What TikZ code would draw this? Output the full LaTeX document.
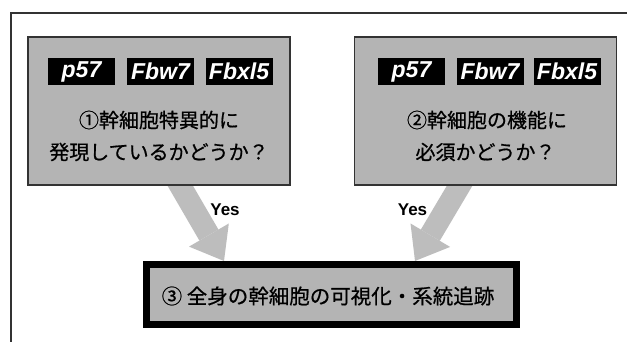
\documentclass[tikz,border=0pt]{standalone}
\usepackage{fontspec}
\newfontfamily\jp[FakeBold=0.7]{Noto Sans CJK JP}
\newfontfamily\lsans{Liberation Sans}
\usetikzlibrary{arrows.meta}
\definecolor{boxgray}{HTML}{B4B4B4}
\definecolor{arrowgray}{HTML}{BDBDBD}
\definecolor{edgegray}{HTML}{333333}
\tikzset{
  qbox/.style={draw=edgegray, line width=1.2pt, fill=boxgray, inner sep=0pt, minimum width=262pt, minimum height=148pt},
  tag/.style={fill=black, text=white, inner sep=0pt, minimum width=67pt, minimum height=27pt, font=\lsans\bfseries\itshape\fontsize{23}{23}\selectfont},
  jtext/.style={inner sep=0pt, font=\jp\fontsize{20}{20}\selectfont},
  yes/.style={inner sep=0pt, font=\lsans\bfseries\fontsize{17}{17}\selectfont},
  bigarrow/.style={draw=arrowgray, line width=22pt, -{Triangle[length=30pt, width=46pt, line width=0pt]}},
  resultbox/.style={draw=black, line width=7pt, fill=boxgray, inner sep=0pt, minimum width=370pt, minimum height=60pt},
}
\begin{document}
\begin{tikzpicture}[x=1pt,y=-1pt]
\useasboundingbox (0,0) rectangle (627,342);
\fill[white] (0,0) rectangle (627,342);
% outer frame (only top and left visible)
\draw[edgegray, line width=1.5pt] (627,13) -- (11,13) -- (11,342);
% arrows (drawn first, boxes cover their starts)
\coordinate (a1s) at (174,175);
\coordinate (a1e) at (224,261);
\coordinate (a2s) at (466,175);
\coordinate (a2e) at (415,261);
\draw[bigarrow] (a1s) -- (a1e);
\draw[bigarrow] (a2s) -- (a2e);
% question boxes
\node[qbox] (box1) at (159,111) {};
\node[qbox] (box2) at (485.5,111) {};
\node[tag] (t1a) at (81.5,71.5) {p57};
\node[tag] (t1b) at (160.5,71.5) {Fbw7};
\node[tag] (t1c) at (239,71.5) {Fbxl5};
\node[tag] (t2a) at (411.5,71.5) {p57};
\node[tag] (t2b) at (490,71.5) {Fbw7};
\node[tag] (t2c) at (567,71.5) {Fbxl5};
\node[jtext] (q1a) at (159,120) {①幹細胞特異的に};
\node[jtext] (q1b) at (159,152) {発現しているかどうか？};
\node[jtext] (q2a) at (487,120) {②幹細胞の機能に};
\node[jtext] (q2b) at (485.5,152) {必須かどうか？};
% yes labels
\node[yes] (y1) at (225,210) {Yes};
\node[yes] (y2) at (412.5,210) {Yes};
% result box
\node[resultbox] (box3) at (331.5,294.5) {};
\node[jtext, font=\jp\fontsize{20.5}{20.5}\selectfont] (r) at (328,296) {③ 全身の幹細胞の可視化・系統追跡};
\end{tikzpicture}
\end{document}
